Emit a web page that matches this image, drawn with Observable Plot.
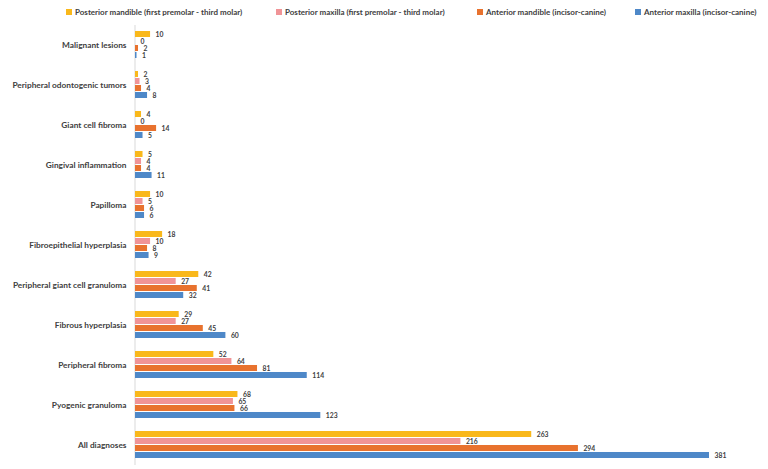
<!DOCTYPE html>
<html>
<head>
<meta charset="utf-8">
<script src="https://cdn.jsdelivr.net/npm/d3@7"></script>
<script src="https://cdn.jsdelivr.net/npm/@observablehq/plot@0.6"></script>
<style>
  html, body { margin: 0; padding: 0; background: #fff; }
  #wrap { position: relative; width: 768px; height: 469px; font-family: Lato, "Open Sans", sans-serif; color: #404040; }
  #legend { position: relative; height: 24px; }
  .item { position: absolute; top: 7px; font-size: 8px; font-weight: bold; white-space: nowrap; line-height: 10px; }
  .sw { display: inline-block; width: 6px; height: 6px; margin-right: 3px; vertical-align: 0px; }
  #chart svg { display: block; font-family: Lato, "Open Sans", sans-serif; color: #404040; }
</style>
</head>
<body>
<div id="wrap">
  <div id="legend"></div>
  <div id="chart"></div>
</div>
<script>
const categories = [
  "Malignant lesions",
  "Peripheral odontogenic tumors",
  "Giant cell fibroma",
  "Gingival inflammation",
  "Papilloma",
  "Fibroepithelial hyperplasia",
  "Peripheral giant cell granuloma",
  "Fibrous hyperplasia",
  "Peripheral fibroma",
  "Pyogenic granuloma",
  "All diagnoses"
];
const seriesNames = [
  "Posterior mandible (first premolar - third molar)",
  "Posterior maxilla (first premolar - third molar)",
  "Anterior mandible (incisor-canine)",
  "Anterior maxilla (incisor-canine)"
];
const posteriorMandible = [10, 2, 4, 5, 10, 18, 42, 29, 52, 68, 263];
const posteriorMaxilla  = [0, 3, 0, 4, 5, 10, 27, 27, 64, 65, 216];
const anteriorMandible  = [2, 4, 14, 4, 6, 8, 41, 45, 81, 66, 294];
const anteriorMaxilla   = [1, 8, 5, 11, 6, 9, 32, 60, 114, 123, 381];
const seriesColors = ["#F9B81B", "#F09497", "#E8722E", "#4E88C8"];

const seriesValues = [posteriorMandible, posteriorMaxilla, anteriorMandible, anteriorMaxilla];
const data = categories.flatMap((c, i) =>
  seriesNames.map((s, j) => ({category: c, series: s, value: seriesValues[j][i]}))
);

// legend
const legendLefts = [66, 276, 477, 635];
const legend = document.getElementById("legend");
seriesNames.forEach((s, j) => {
  const it = document.createElement("div");
  it.className = "item";
  it.style.left = legendLefts[j] + "px";
  it.innerHTML = `<span class="sw" style="background:${seriesColors[j]}"></span>${s}`;
  legend.appendChild(it);
});

const chart = Plot.plot({
  width: 768,
  height: 445,
  marginLeft: 135,
  marginRight: 59,
  marginTop: 1,
  marginBottom: 4,
  x: {domain: [0, 381], axis: null},
  y: {domain: seriesNames, axis: null, padding: 0.12},
  fy: {domain: categories, padding: 0.2, axis: "left", label: null, tickSize: 0, tickPadding: 9},
  color: {domain: seriesNames, range: seriesColors},
  style: {fontSize: "8.3px", fontWeight: "bold", color: "#404040"},
  marks: [
    Plot.barX(data, {fy: "category", y: "series", x: "value", fill: "series"}),
    Plot.text(data, {fy: "category", y: "series", x: "value", text: d => String(d.value),
      dx: 5, textAnchor: "start", fontWeight: "bold", fontSize: 6.8, fill: "#404040"})
  ]
});
document.getElementById("chart").appendChild(chart);

// continuous vertical axis line at x = 0, positioned through the x scale
const xs = chart.scale("x");
const x0 = xs.apply(0);
d3.select(chart).insert("line", ":first-child")
  .attr("x1", x0).attr("x2", x0)
  .attr("y1", 1).attr("y2", 441)
  .attr("stroke", "#d9d9d9").attr("stroke-width", 1);
</script>
</body>
</html>
